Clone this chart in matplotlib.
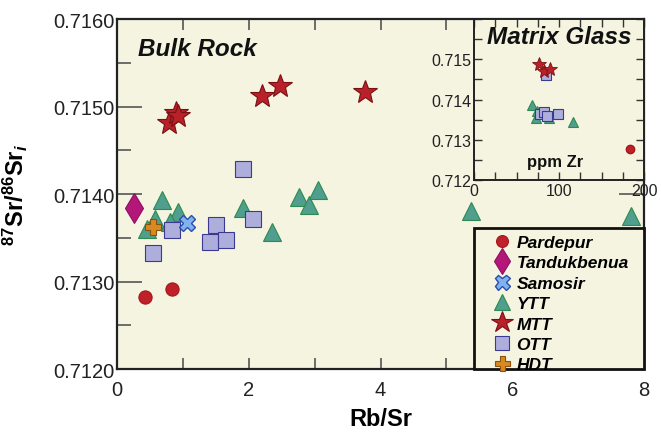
import matplotlib
matplotlib.use("Agg")
import matplotlib.pyplot as plt
from matplotlib.patches import Rectangle
from matplotlib.ticker import MultipleLocator, FormatStrFormatter, FixedLocator

plt.rcParams['font.family'] = ['Liberation Sans', 'DejaVu Sans']
plt.rcParams['mathtext.fontset'] = 'custom'
plt.rcParams['mathtext.rm'] = 'Liberation Sans:bold'
plt.rcParams['mathtext.it'] = 'Liberation Sans:bold:italic'
plt.rcParams['mathtext.bf'] = 'Liberation Sans:bold'

# Bulk rock data (Rb/Sr vs 87Sr/86Sr initial)
pardepur_rbsr = [0.43, 0.84]
pardepur_sr = [0.71282, 0.71292]
tanduk_rbsr = [0.26]
tanduk_sr = [0.71384]
samosir_rbsr = [1.07]
samosir_sr = [0.71367]
ytt_rbsr = [0.68, 0.58, 0.46, 0.93, 0.80, 1.92, 2.36, 2.77, 2.92, 3.05, 5.37, 7.81]
ytt_sr = [0.71393, 0.71371, 0.71360, 0.71379, 0.71368, 0.71384, 0.71357,
          0.71397, 0.71387, 0.71405, 0.71381, 0.71375]
mtt_rbsr = [0.79, 0.90, 0.93, 2.20, 2.47, 3.77]
mtt_sr = [0.71481, 0.71493, 0.71489, 0.71512, 0.71523, 0.71517]
ott_rbsr = [1.91, 2.06, 1.51, 1.41, 1.65, 0.83, 0.55]
ott_sr = [0.71429, 0.71371, 0.71365, 0.71345, 0.71347, 0.71359, 0.71333]
hdt_rbsr = [0.54]
hdt_sr = [0.71362]

# Matrix glass data (ppm Zr vs 87Sr/86Sr)
glass_pardepur_zr = [183.5]
glass_pardepur_sr = [0.71276]
glass_ytt_zr = [68, 74, 73, 88, 116]
glass_ytt_sr = [0.71387, 0.71372, 0.71354, 0.71354, 0.71344]
glass_mtt_zr = [76, 82, 89]
glass_mtt_sr = [0.71488, 0.71472, 0.71477]
glass_ott_zr = [85, 78, 82, 86, 99]
glass_ott_sr = [0.71462, 0.71365, 0.71368, 0.71358, 0.71365]

bg = '#f4f4e1'
styles = {
    'Pardepur': dict(marker='o', color='#c0202a', mec='#a01818', ms=9.5),
    'Tandukbenua': dict(marker='d', color='#b3177a', mec='#8e1060', ms=15),
    'Samosir': dict(marker='X', color='#7fb2ee', mec='#2b4fa8', ms=12, mew=1.0),
    'YTT': dict(marker='^', color='#4f9e8e', mec='#2e8a50', ms=13),
    'MTT': dict(marker='*', color='#b8202a', mec='#7a1010', ms=18),
    'OTT': dict(marker='s', color='#aeaedc', mec='#3a3a90', ms=11.5),
    'HDT': dict(marker='P', color='#d88a20', mec='#8a5010', ms=12),
}
main_data = {
    'Pardepur': (pardepur_rbsr, pardepur_sr),
    'Tandukbenua': (tanduk_rbsr, tanduk_sr),
    'Samosir': (samosir_rbsr, samosir_sr),
    'YTT': (ytt_rbsr, ytt_sr),
    'MTT': (mtt_rbsr, mtt_sr),
    'OTT': (ott_rbsr, ott_sr),
    'HDT': (hdt_rbsr, hdt_sr),
}

fig = plt.figure(figsize=(6.61, 4.35), dpi=100)
ax = fig.add_axes([0.177, 0.1494, 0.7973, 0.8046])
ax.set_facecolor(bg)

for name in ['YTT', 'OTT', 'MTT', 'Pardepur', 'Tandukbenua', 'Samosir', 'HDT']:
    xs, ys = main_data[name]
    st = dict(styles[name])
    ax.plot(xs, ys, linestyle='none', mew=st.pop('mew', 0.8), label=name, **st)

ax.set_xlim(0, 8)
ax.set_ylim(0.712, 0.716)
ax.xaxis.set_major_locator(MultipleLocator(2))
ax.xaxis.set_minor_locator(MultipleLocator(1))
ax.yaxis.set_major_locator(MultipleLocator(0.001))
ax.yaxis.set_minor_locator(MultipleLocator(0.0005))
ax.yaxis.set_major_formatter(FormatStrFormatter('%.4f'))
ax.tick_params(which='both', direction='in', top=True, right=True,
               color='#555555', labelsize=14.5, labelcolor='#222222')
ax.tick_params(axis='y', which='major', length=18, width=1.2, pad=2)
ax.tick_params(axis='y', which='minor', length=10, width=1.2)
ax.tick_params(axis='x', which='both', length=8, width=1.2, pad=8)
for sp in ax.spines.values():
    sp.set_linewidth(1.6)
    sp.set_color('#222222')

ax.set_xlabel('Rb/Sr', fontsize=17, fontweight='bold', labelpad=6)
ax.set_ylabel(r'$^{87}$Sr/$^{86}$Sr$_{\mathit{i}}$', fontsize=17, fontweight='bold')
ax.yaxis.set_label_coords(-0.165, 0.5)

ax.text(0.04, 0.95, 'Bulk Rock', transform=ax.transAxes, fontsize=17.5,
        fontweight='bold', fontstyle='italic', va='top', ha='left', color='#111111')

# legend box drawn as a patch, legend itself unframed
box = Rectangle((0.677, 0.0), 0.323, 0.403, transform=ax.transAxes,
                facecolor=bg, edgecolor='#111111', linewidth=2, zorder=4, clip_on=False)
ax.add_patch(box)
handles, labels = ax.get_legend_handles_labels()
order = ['Pardepur', 'Tandukbenua', 'Samosir', 'YTT', 'MTT', 'OTT', 'HDT']
hmap = dict(zip(labels, handles))
leg = ax.legend([hmap[k] for k in order], order, loc='upper left',
                bbox_to_anchor=(0.7135, 0.383), borderaxespad=0, frameon=False,
                prop=dict(weight='bold', style='italic', size=12.5),
                labelspacing=0.3, handletextpad=0.35, handlelength=1.0,
                borderpad=0, markerscale=0.9)
leg.set_zorder(5)

# inset: matrix glass
ins = fig.add_axes([0.7171, 0.5839, 0.2572, 0.3701])
ins.set_facecolor(bg)
ins.plot(glass_ytt_zr, glass_ytt_sr, linestyle='none', marker='^', color='#4f9e8e',
         mec='#2e8a50', ms=7.5, mew=0.8)
ins.plot(glass_ott_zr, glass_ott_sr, linestyle='none', marker='s', color='#aeaedc',
         mec='#3a3a90', ms=6.5, mew=0.8)
ins.plot(glass_mtt_zr, glass_mtt_sr, linestyle='none', marker='*', color='#b8202a',
         mec='#7a1010', ms=10, mew=0.6)
ins.plot(glass_pardepur_zr, glass_pardepur_sr, linestyle='none', marker='o',
         color='#c0202a', mec='#a01818', ms=6)
ins.set_xlim(0, 200)
ins.set_ylim(0.712, 0.716)
ins.xaxis.set_major_locator(MultipleLocator(100))
ins.xaxis.set_minor_locator(MultipleLocator(25))
ins.yaxis.set_major_locator(FixedLocator([0.712, 0.713, 0.714, 0.715]))
ins.yaxis.set_minor_locator(MultipleLocator(0.0005))
ins.yaxis.set_major_formatter(FormatStrFormatter('%.3f'))
ins.tick_params(which='both', direction='in', top=True, right=True, color='#333333',
                labelsize=11.5, labelcolor='#222222', length=6, width=1.0, pad=2)
for sp in ins.spines.values():
    sp.set_linewidth(1.4)
    sp.set_color('#222222')
ins.text(0.5, 0.96, 'Matrix Glass', transform=ins.transAxes, fontsize=17.5,
         fontweight='bold', fontstyle='italic', va='top', ha='center', color='#111111')
ins.text(95, 0.71246, 'ppm Zr', fontsize=12, fontweight='bold', ha='center',
         va='center', color='#111111')

fig.savefig('out.png', dpi=100)
